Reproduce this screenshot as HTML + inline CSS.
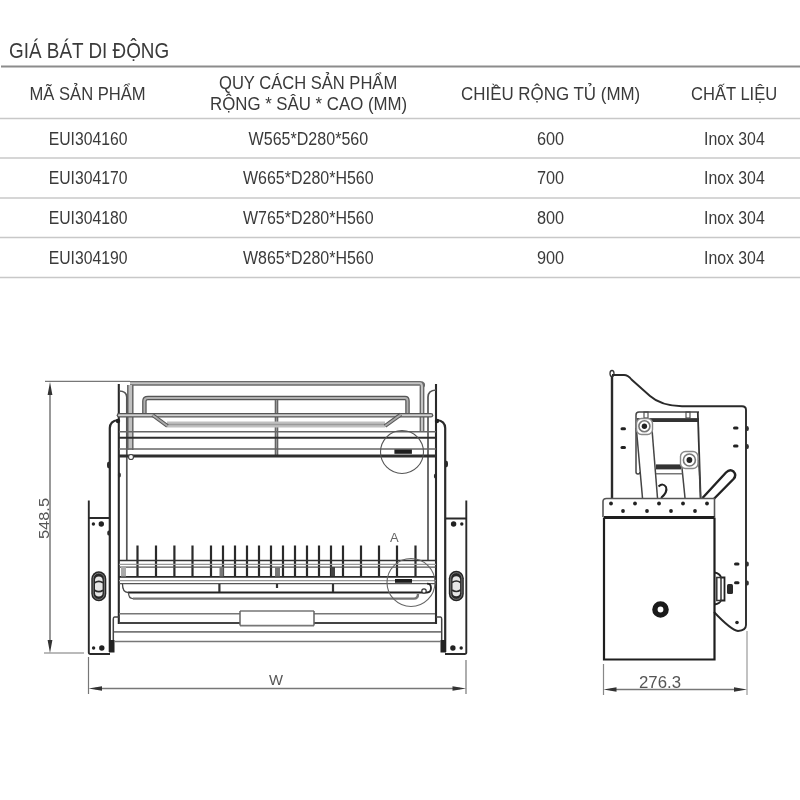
<!DOCTYPE html>
<html><head><meta charset="utf-8">
<style>
html,body{margin:0;padding:0;background:#fff;width:800px;height:800px;overflow:hidden}
svg{display:block;will-change:transform}
.t{font-family:"Liberation Sans",sans-serif;font-size:18px;fill:#3a3a3a}
</style></head><body>
<svg width="800" height="800" viewBox="0 0 800 800">
<rect width="800" height="800" fill="#fff"/>
<g class="t">
<text x="9.00" y="57.8" style="font-size:22px" textLength="160.20" lengthAdjust="spacingAndGlyphs">GIÁ BÁT DI ĐỘNG</text>
<text x="29.50" y="99.5" textLength="116.20" lengthAdjust="spacingAndGlyphs">MÃ SẢN PHẨM</text>
<text x="219.00" y="88.5" textLength="178.20" lengthAdjust="spacingAndGlyphs">QUY CÁCH SẢN PHẨM</text>
<text x="210.00" y="109.5" textLength="197.20" lengthAdjust="spacingAndGlyphs">RỘNG * SÂU * CAO (MM)</text>
<text x="461.00" y="100" textLength="179.20" lengthAdjust="spacingAndGlyphs">CHIỀU RỘNG TỦ (MM)</text>
<text x="691.00" y="99.5" textLength="86.20" lengthAdjust="spacingAndGlyphs">CHẤT LIỆU</text>

<text x="48.75" y="144.8" textLength="78.70" lengthAdjust="spacingAndGlyphs">EUI304160</text>
<text x="248.60" y="144.8" textLength="119.60" lengthAdjust="spacingAndGlyphs">W565*D280*560</text>
<text x="537.00" y="144.8" textLength="27.20" lengthAdjust="spacingAndGlyphs">600</text>
<text x="704.00" y="144.8" textLength="60.70" lengthAdjust="spacingAndGlyphs">Inox 304</text>

<text x="48.75" y="184.4" textLength="78.70" lengthAdjust="spacingAndGlyphs">EUI304170</text>
<text x="243.00" y="184.4" textLength="130.60" lengthAdjust="spacingAndGlyphs">W665*D280*H560</text>
<text x="537.00" y="184.4" textLength="27.20" lengthAdjust="spacingAndGlyphs">700</text>
<text x="704.00" y="184.4" textLength="60.70" lengthAdjust="spacingAndGlyphs">Inox 304</text>

<text x="48.75" y="224.4" textLength="78.70" lengthAdjust="spacingAndGlyphs">EUI304180</text>
<text x="243.00" y="224.4" textLength="130.60" lengthAdjust="spacingAndGlyphs">W765*D280*H560</text>
<text x="537.00" y="224.4" textLength="27.20" lengthAdjust="spacingAndGlyphs">800</text>
<text x="704.00" y="224.4" textLength="60.70" lengthAdjust="spacingAndGlyphs">Inox 304</text>

<text x="48.75" y="264.1" textLength="78.70" lengthAdjust="spacingAndGlyphs">EUI304190</text>
<text x="243.00" y="264.1" textLength="130.60" lengthAdjust="spacingAndGlyphs">W865*D280*H560</text>
<text x="537.00" y="264.1" textLength="27.20" lengthAdjust="spacingAndGlyphs">900</text>
<text x="704.00" y="264.1" textLength="60.70" lengthAdjust="spacingAndGlyphs">Inox 304</text>
</g>
<g stroke="#c8c8c8" stroke-width="1.5">
<line x1="1" y1="66.5" x2="800" y2="66.5" stroke="#8c8c8c" stroke-width="2"/>
<line x1="0" y1="118.5" x2="800" y2="118.5"/>
<line x1="0" y1="158" x2="800" y2="158"/>
<line x1="0" y1="198" x2="800" y2="198"/>
<line x1="0" y1="237.5" x2="800" y2="237.5"/>
<line x1="0" y1="277.5" x2="800" y2="277.5"/>
</g>
<!-- DRAWING -->
<!-- ========== FRONT VIEW ========== -->
<g fill="none" stroke-linecap="butt">
<!-- dimension: vertical 548.5 -->
<line x1="45" y1="381.3" x2="130" y2="381.3" stroke="#777" stroke-width="1.2"/>
<line x1="44" y1="653" x2="84" y2="653" stroke="#777" stroke-width="1.2"/>
<line x1="50" y1="390" x2="50" y2="645" stroke="#777" stroke-width="1.5"/>
<path d="M50 382 L47.6 395 L52.4 395 Z M50 653 L47.6 640 L52.4 640 Z" fill="#333" stroke="none"/>
<text x="0" y="0" transform="translate(48.5 539) rotate(-90)" font-family="Liberation Sans" font-size="15" fill="#555" stroke="none" textLength="41" lengthAdjust="spacingAndGlyphs">548.5</text>
<!-- dimension: W -->
<line x1="88.5" y1="657" x2="88.5" y2="694" stroke="#777" stroke-width="1.2"/>
<line x1="466" y1="660" x2="466" y2="694" stroke="#777" stroke-width="1.2"/>
<line x1="95" y1="688.5" x2="460" y2="688.5" stroke="#777" stroke-width="1.5"/>
<path d="M88.5 688.5 L102 686.2 L102 690.8 Z M466 688.5 L452.5 686.2 L452.5 690.8 Z" fill="#333" stroke="none"/>
<text x="269" y="684.5" font-family="Liberation Sans" font-size="14" fill="#555" stroke="none" textLength="14" lengthAdjust="spacingAndGlyphs">W</text>

<!-- top bar -->
<path d="M130 383.3 H420 Q424 383.3 422 387 V431" stroke="#6a6a6a" stroke-width="4.8"/>
<path d="M130 383.3 H420 Q422 383.3 422 387 V431" stroke="#c4c4c4" stroke-width="2"/>
<!-- left gray post -->
<line x1="130.3" y1="385" x2="130.3" y2="450" stroke="#666" stroke-width="6.5"/>
<line x1="130.3" y1="385" x2="130.3" y2="450" stroke="#c0c0c0" stroke-width="3.5"/>
<!-- outer posts -->
<line x1="118.8" y1="384" x2="118.8" y2="624" stroke="#2a2a2a" stroke-width="2.1"/>
<line x1="436" y1="384" x2="436" y2="624" stroke="#2a2a2a" stroke-width="2.1"/>
<!-- inner lines with arcs -->
<path d="M119 391 Q126.5 391 126.8 397 V560" stroke="#555" stroke-width="1.7"/>
<path d="M436 390 Q428 390.5 428 397 V560" stroke="#555" stroke-width="1.7"/>

<!-- handle rail upper -->
<path d="M144.4 413 V401 Q144.4 398 148 398 H405 Q407.5 398 407.5 401 V413" stroke="#555" stroke-width="4.5"/>
<path d="M144.4 413 V401 Q144.4 398 148 398 H405 Q407.5 398 407.5 401 V413" stroke="#b0b0b0" stroke-width="2"/>
<!-- divider bar -->
<line x1="276.5" y1="400" x2="276.5" y2="456" stroke="#606060" stroke-width="3.6"/>
<line x1="276.5" y1="400" x2="276.5" y2="456" stroke="#999" stroke-width="1.2"/>
<!-- gray band -->
<rect x="167" y="421.5" width="218" height="6" fill="#c0c0c0" stroke="none"/>
<line x1="167" y1="424.5" x2="385" y2="424.5" stroke="#9a9a9a" stroke-width="1.6"/>
<!-- rail 1 -->
<path d="M119 415.3 H431" stroke="#555" stroke-width="4.6" stroke-linecap="round"/>
<path d="M119 415.3 H431" stroke="#d0d0d0" stroke-width="2" stroke-linecap="round"/>
<!-- diagonals -->
<path d="M152.5 415 L167.5 426" stroke="#555" stroke-width="4"/>
<path d="M152.5 415 L167.5 426" stroke="#aaa" stroke-width="1.8"/>
<path d="M401 414.4 L385 426" stroke="#555" stroke-width="4"/>
<path d="M401 414.4 L385 426" stroke="#aaa" stroke-width="1.8"/>
<!-- rails 2,3 -->
<line x1="119" y1="431.8" x2="436" y2="431.8" stroke="#666" stroke-width="1.6"/>
<line x1="119" y1="437.8" x2="436" y2="437.8" stroke="#2e2e2e" stroke-width="2"/>
<line x1="119" y1="449" x2="436" y2="449" stroke="#666" stroke-width="1.6"/>
<line x1="119" y1="456" x2="436" y2="456" stroke="#2e2e2e" stroke-width="2.8"/>
<circle cx="131" cy="457" r="2.5" stroke="#444" stroke-width="1.2" fill="#fff"/>
<!-- upper circle detail -->
<circle cx="402" cy="452" r="21.5" stroke="#555" stroke-width="1.1"/>
<rect x="394.4" y="449.5" width="17.5" height="4.3" fill="#1e1e1e" stroke="none"/>

<!-- slide wiggles -->
<path d="M118 420 Q110 421 109.8 428 V652" stroke="#2a2a2a" stroke-width="2.2"/>
<path d="M437 420 Q445 421 445.2 428 V652" stroke="#2a2a2a" stroke-width="2.2"/>
<circle cx="118" cy="421" r="2.2" fill="#222" stroke="none"/><g fill="#2a2a2a" stroke="none"><ellipse cx="108.6" cy="465" rx="1.6" ry="3.2"/><ellipse cx="119.4" cy="475" rx="1.5" ry="2.6"/><ellipse cx="108.6" cy="533" rx="1.4" ry="2.6"/><ellipse cx="446.4" cy="464" rx="1.6" ry="3.2"/><ellipse cx="435.4" cy="476" rx="1.5" ry="2.6"/></g>
<circle cx="437" cy="421" r="2.2" fill="#222" stroke="none"/>

<!-- left plate -->
<path d="M88.8 500.5 V652.5 Q88.8 654 90.5 654 H110" stroke="#2a2a2a" stroke-width="1.9"/>
<path d="M88.8 518 H110" stroke="#2a2a2a" stroke-width="2"/>
<path d="M119 617 H114.5 Q113.3 617 113.3 619 V652" stroke="#444" stroke-width="1.5"/><rect x="109" y="640" width="5.5" height="12.5" fill="#222" stroke="none"/>
<rect x="91.3" y="571.3" width="15" height="30" rx="7.5" fill="#262626" stroke="none"/><rect x="93.2" y="573.2" width="11.2" height="26.2" rx="5.6" fill="none" stroke="#8a8a8a" stroke-width="0.8"/><rect x="95" y="576.5" width="7.6" height="20" rx="3.8" fill="#e6e6e6" stroke="none"/><path d="M94.6 582.8 Q98.8 579.8 103 582.8 M94.6 590.2 Q98.8 593.2 103 590.2" stroke="#2a2a2a" stroke-width="1.7"/>
<circle cx="93.4" cy="524" r="1.7" fill="#222" stroke="none"/>
<circle cx="101.3" cy="524" r="2.7" fill="#222" stroke="none"/>
<circle cx="93.6" cy="648" r="1.7" fill="#222" stroke="none"/>
<circle cx="101.8" cy="648" r="2.7" fill="#222" stroke="none"/>
<!-- right plate -->
<path d="M466.3 500.5 V652.5 Q466.3 654 464.5 654 H445" stroke="#2a2a2a" stroke-width="1.9"/>
<path d="M466.3 518.5 H445" stroke="#2a2a2a" stroke-width="2"/>
<path d="M436 617 H440.5 Q441.7 617 441.7 619 V652" stroke="#444" stroke-width="1.5"/><rect x="440.5" y="640" width="5.5" height="12.5" fill="#222" stroke="none"/>
<rect x="448.8" y="570.8" width="15" height="30.5" rx="7.5" fill="#262626" stroke="none"/><rect x="450.7" y="572.7" width="11.2" height="26.6" rx="5.6" fill="none" stroke="#8a8a8a" stroke-width="0.8"/><rect x="452.5" y="576.2" width="7.6" height="20" rx="3.8" fill="#e6e6e6" stroke="none"/><path d="M452.1 582.5 Q456.3 579.5 460.5 582.5 M452.1 590 Q456.3 593 460.5 590" stroke="#2a2a2a" stroke-width="1.7"/>
<circle cx="453.6" cy="524" r="2.7" fill="#222" stroke="none"/>
<circle cx="461.8" cy="524" r="1.7" fill="#222" stroke="none"/>
<circle cx="452.9" cy="648" r="2.7" fill="#222" stroke="none"/>
<circle cx="461.2" cy="648" r="1.7" fill="#222" stroke="none"/>

<!-- lower basket spikes -->
<g stroke="#2a2a2a" stroke-width="2.2">
<path d="M137.5 545.5V576 M156 545.5V576 M174.4 545.5V576 M192.5 545.5V576 M211 545.5V576 M223 545.5V576 M235 545.5V576 M247 545.5V576 M259 545.5V576 M271 545.5V576 M283 545.5V576 M295 545.5V576 M307 545.5V576 M319 545.5V576 M331 545.5V576 M343 545.5V576 M361 545.5V576 M379 545.5V576 M397 545.5V576 M415.5 545.5V576"/>
</g>
<!-- lower rails -->
<line x1="119" y1="560.6" x2="436" y2="560.6" stroke="#333" stroke-width="1.5"/>
<line x1="119" y1="564.4" x2="436" y2="564.4" stroke="#999" stroke-width="1.2"/>
<line x1="119" y1="567.2" x2="436" y2="567.2" stroke="#555" stroke-width="1.3"/>
<line x1="119" y1="576.9" x2="436" y2="576.9" stroke="#2a2a2a" stroke-width="1.6"/>
<line x1="119" y1="580.6" x2="436" y2="580.6" stroke="#999" stroke-width="1.2"/>
<line x1="119" y1="583.7" x2="436" y2="583.7" stroke="#555" stroke-width="1.3"/>
<path d="M128 592.5 H427 Q431 592.5 431 588 Q431 583.7 427 583.7" stroke="#222" stroke-width="1.8"/><circle cx="424" cy="591" r="2.2" stroke="#333" stroke-width="1.2" fill="#fff"/>
<path d="M122.5 584 Q122.5 592.5 128 592.5" stroke="#444" stroke-width="1.3"/>
<path d="M133 598.6 H414 Q418 598.6 418 594" stroke="#777" stroke-width="2.4"/>
<path d="M128.5 592.5 Q128.5 598.6 133 598.6" stroke="#555" stroke-width="1.3"/>
<line x1="219.4" y1="584" x2="219.4" y2="592" stroke="#333" stroke-width="2.2"/>
<line x1="277" y1="584" x2="277" y2="588" stroke="#333" stroke-width="2.2"/>
<line x1="333" y1="584" x2="333" y2="592" stroke="#333" stroke-width="2.2"/>
<g fill="#777" stroke="none"><rect x="219.5" y="567" width="4" height="9.5"/><rect x="275" y="567" width="5" height="9.5"/><rect x="121" y="567" width="5" height="9.5" fill="#aaa"/></g><rect x="331" y="567" width="4" height="9" fill="#444" stroke="none"/>
<circle cx="411" cy="582.5" r="24" stroke="#666" stroke-width="1.1"/>
<rect x="395" y="579" width="17" height="3.8" fill="#1e1e1e" stroke="none"/>
<!-- bottom bar -->
<path d="M119 613.8 H240 M314 613.8 H435" stroke="#777" stroke-width="1.6"/><path d="M119 623 H240 M314 623 H435" stroke="#444" stroke-width="1.8"/>
<path d="M240 611 H314 M240 625.6 H314" stroke="#777" stroke-width="1.6"/>
<path d="M240 611 V625.6 M314 611 V625.6" stroke="#666" stroke-width="1.5"/>
<line x1="114" y1="631.9" x2="441" y2="631.9" stroke="#777" stroke-width="1.7"/>
<line x1="114" y1="641.5" x2="441" y2="641.5" stroke="#777" stroke-width="1.7"/>
<text x="390" y="542" font-family="Liberation Sans" font-size="13" fill="#666" stroke="none">A</text>
</g>

<!-- ========== SIDE VIEW ========== -->
<g fill="none">
<!-- back plate -->
<path d="M612 373 V498" stroke="#2a2a2a" stroke-width="2.4"/><ellipse cx="612" cy="373.5" rx="2" ry="3" fill="#fff" stroke="#333" stroke-width="1.3"/>
<g fill="#333" stroke="none"><ellipse cx="747.3" cy="428.5" rx="1.6" ry="2.5"/><ellipse cx="747.3" cy="446.5" rx="1.6" ry="2.5"/><ellipse cx="747.3" cy="564" rx="1.6" ry="2.5"/><ellipse cx="747.3" cy="583" rx="1.6" ry="2.5"/></g>
<path d="M612 375 H624 Q628 375 631.5 379.5 L650 396 Q661 405.8 682 406.3 H742 Q746 406.3 746 410 V625 Q746 630.5 738 631 Q731 630 714 612" stroke="#2a2a2a" stroke-width="1.9"/>
<g fill="#222" stroke="none">
<rect x="620.5" y="427.3" width="5.5" height="3" rx="1.5"/>
<rect x="620.5" y="446" width="5.5" height="3" rx="1.5"/>
<rect x="733" y="426.5" width="5.5" height="3" rx="1.5"/>
<rect x="733" y="444.5" width="5.5" height="3" rx="1.5"/>
<rect x="734" y="562.5" width="5.5" height="3" rx="1.5"/>
<rect x="734" y="581.3" width="5.5" height="3" rx="1.5"/>
<circle cx="737" cy="622.5" r="1.8"/>
</g>
<!-- frame -->
<path d="M699 412 H639 Q636 412 636 415 V472 Q636 474 638 474 Q640 474 640 472" stroke="#444" stroke-width="1.5"/>
<line x1="636" y1="418.5" x2="699" y2="418.5" stroke="#666" stroke-width="1.2"/>
<rect x="637" y="418.5" width="62" height="3.5" fill="#333" stroke="none"/>
<rect x="644" y="412" width="4" height="6" stroke="#444" stroke-width="1.1"/>
<rect x="686" y="412" width="4" height="6" stroke="#444" stroke-width="1.1"/>
<line x1="697.8" y1="412" x2="700.6" y2="498" stroke="#333" stroke-width="1.8"/>
<!-- arms -->
<line x1="636.3" y1="428" x2="642.5" y2="498" stroke="#444" stroke-width="1.5"/>
<line x1="651.9" y1="428" x2="657.5" y2="498" stroke="#444" stroke-width="1.5"/>
<line x1="681" y1="458" x2="685" y2="498" stroke="#444" stroke-width="1.5"/>
<line x1="698.8" y1="460" x2="700.6" y2="498" stroke="#444" stroke-width="1.5"/>
<rect x="656" y="464.4" width="25" height="5" fill="#333" stroke="none"/>
<line x1="656" y1="473.8" x2="683" y2="473.8" stroke="#555" stroke-width="1.2"/>
<rect x="636.5" y="418.5" width="16" height="16" rx="5" fill="#fff" stroke="#888" stroke-width="1.4"/><circle cx="644.4" cy="426.3" r="5.5" fill="#fff" stroke="#777" stroke-width="1.6"/>
<circle cx="644.4" cy="426.3" r="2.7" fill="#222" stroke="none"/>
<rect x="680.5" y="451.5" width="17.5" height="17" rx="5" fill="#fff" stroke="#888" stroke-width="1.4"/><circle cx="689.4" cy="460" r="6" fill="#fff" stroke="#777" stroke-width="1.6"/>
<circle cx="689.4" cy="460" r="2.9" fill="#222" stroke="none"/>
<path d="M658.5 486.5 Q663 482.5 666 487 Q668 492 661 498" stroke="#222" stroke-width="2"/>
<!-- handle -->
<path d="M702.5 498 L726 472.5 Q730 468.5 733.5 471.5 Q737 475 733.5 479 L713.8 499" stroke="#222" stroke-width="2.4"/>
<!-- top plate -->
<path d="M603 517 V501.5 Q603 498.5 606.5 498.5 H714.5 V517" stroke="#555" stroke-width="1.6"/>
<g fill="#222" stroke="none">
<circle cx="611" cy="503.5" r="1.9"/><circle cx="635" cy="503.5" r="1.9"/><circle cx="659" cy="503.5" r="1.9"/><circle cx="683" cy="503.5" r="1.9"/><circle cx="707" cy="503.5" r="1.9"/>
<circle cx="623" cy="511" r="1.9"/><circle cx="647" cy="511" r="1.9"/><circle cx="671" cy="511" r="1.9"/><circle cx="695" cy="511" r="1.9"/>
</g>
<!-- cabinet -->
<path d="M604 517.5 H714.5" stroke="#1e1e1e" stroke-width="3"/><path d="M604 517.5 V659.5 H714.5 V517.5" stroke="#1e1e1e" stroke-width="2.2"/>
<circle cx="660.5" cy="609.5" r="5.6" stroke="#1a1a1a" stroke-width="5.4"/>
<!-- hinge -->
<path d="M714.5 572.5 Q720 573.5 721 577.5 H724.5 V600.5 H721 Q720 603.5 714.5 604.5" stroke="#222" stroke-width="1.8"/>
<rect x="716.8" y="577.5" width="4.2" height="23" stroke="#333" stroke-width="1.5"/>
<rect x="727" y="584" width="6" height="10" rx="1.5" fill="#2a2a2a" stroke="none"/>
<!-- dimension 276.3 -->
<line x1="603.5" y1="664" x2="603.5" y2="695" stroke="#888" stroke-width="1.2"/>
<line x1="747" y1="631" x2="747" y2="695" stroke="#999" stroke-width="1.2"/>
<line x1="610" y1="689.5" x2="740" y2="689.5" stroke="#777" stroke-width="1.5"/>
<path d="M603.5 689.5 L616.5 687.2 L616.5 691.8 Z M747 689.5 L734 687.2 L734 691.8 Z" fill="#333" stroke="none"/>
<text x="639" y="688" font-family="Liberation Sans" font-size="17" fill="#555" stroke="none" textLength="42" lengthAdjust="spacingAndGlyphs">276.3</text>
</g>
</svg>
</body></html>
